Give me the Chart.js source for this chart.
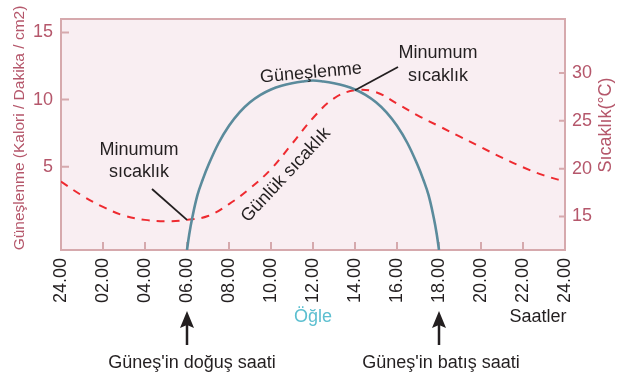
<!DOCTYPE html>
<html lang="tr">
<head>
<meta charset="utf-8">
<title>Güneşlenme ve günlük sıcaklık</title>
<script src="https://cdn.jsdelivr.net/npm/chart.js@4.4.1/dist/chart.umd.min.js"></script>
<style>
  html, body { margin: 0; padding: 0; background: #fff; }
  #wrap { width: 630px; height: 376px; }
</style>
</head>
<body>
<div id="wrap"><canvas id="gunesChart" width="630" height="376"></canvas></div>
<script>
// --- Veriler ---
const hourLabels = ['24.00', '02.00', '04.00', '06.00', '08.00', '10.00', '12.00',
                    '14.00', '16.00', '18.00', '20.00', '22.00', '24.00'];

// güneşlenme (kalori / dakika / cm2), doğuştan batışa
const sunHours  = [6, 6.1, 6.25, 6.5, 6.75, 7, 7.5, 8, 8.5, 9, 9.5, 10, 10.5, 11, 11.5, 12,
                   12.5, 13, 13.5, 14, 14.5, 15, 15.5, 16, 16.5, 17, 17.25, 17.5, 17.75, 17.9, 18];
const sunValues = [-1.2, -0.1, 1.2, 2.9, 4.05, 5.05, 6.75, 8.05, 9.05, 9.8, 10.35, 10.75, 11.03, 11.22, 11.35, 11.42,
                   11.35, 11.22, 11.03, 10.75, 10.35, 9.8, 9.05, 8.05, 6.75, 5.05, 4.05, 2.9, 1.2, -0.1, -1.2];

// günlük sıcaklık (°C), saat başı
const tempHours  = [0, 1, 2, 3, 4, 5, 6, 7, 8, 9, 10, 11, 12, 13, 14, 15, 16, 17, 18, 19, 20, 21, 22, 23, 24];
const tempValues = [18.65, 17.2, 16.0, 15.1, 14.65, 14.5, 14.65, 15.05, 16.3, 17.95, 19.95, 22.6, 25.3,
                    27.35, 28.2, 28.0, 26.8, 25.55, 24.45, 23.35, 22.25, 21.15, 20.15, 19.3, 18.65];

const sunTicks  = [5, 10, 15];
const tempTicks = [15, 20, 25, 30];

const FONT = '"Liberation Sans", Arial, sans-serif';
const AXIS_COLOR = '#b5576b';
const FRAME_COLOR = '#d6a9ad';
const TEXT_COLOR = '#231f20';

const toPoints = (xs, ys) => xs.map((x, i) => ({ x: x, y: ys[i] }));

// arka plan, çerçeve ve içe dönük çentikler
const framePlugin = {
    id: 'frame',
    beforeDatasetsDraw(chart) {
        const { ctx, chartArea: a, scales } = chart;
        ctx.save();
        ctx.fillStyle = '#f9eef2';
        ctx.fillRect(a.left, a.top, a.width, a.height);

        ctx.strokeStyle = FRAME_COLOR;
        ctx.lineWidth = 2;
        ctx.beginPath();
        scales.x.ticks.forEach(t => {
            if (t.value <= 0 || t.value >= 24) return;
            const x = scales.x.getPixelForValue(t.value);
            ctx.moveTo(x, a.bottom);
            ctx.lineTo(x, a.bottom - 8);
        });
        scales.y.ticks.forEach(t => {
            const y = scales.y.getPixelForValue(t.value);
            ctx.moveTo(a.left, y);
            ctx.lineTo(a.left + 8, y);
        });
        scales.y2.ticks.forEach(t => {
            const y = scales.y2.getPixelForValue(t.value);
            ctx.moveTo(a.right, y);
            ctx.lineTo(a.right - 6, y);
        });
        ctx.stroke();
        ctx.strokeRect(a.left, a.top, a.width, a.height);
        ctx.restore();
    }
};

function upArrow(ctx, x, tipY, len) {
    ctx.beginPath();
    ctx.moveTo(x, tipY + 10);
    ctx.lineTo(x, tipY + len);
    ctx.stroke();
    ctx.beginPath();
    ctx.moveTo(x, tipY);
    ctx.lineTo(x - 7, tipY + 17);
    ctx.lineTo(x, tipY + 14);
    ctx.lineTo(x + 7, tipY + 17);
    ctx.closePath();
    ctx.fill();
}

// yazılar, işaret çizgileri, oklar ve eksen başlıkları
const notesPlugin = {
    id: 'notes',
    afterDraw(chart) {
        const { ctx, scales } = chart;
        const x = scales.x, yT = scales.y2;
        ctx.save();
        ctx.fillStyle = TEXT_COLOR;
        ctx.strokeStyle = TEXT_COLOR;
        ctx.textAlign = 'center';
        ctx.textBaseline = 'middle';
        ctx.font = '18px ' + FONT;

        // minimum sıcaklık (sabah)
        ctx.fillText('Minumum', 139, 150);
        ctx.fillText('sıcaklık', 139, 172);
        ctx.lineWidth = 1.8;
        ctx.beginPath();
        ctx.moveTo(152, 189);
        ctx.lineTo(x.getPixelForValue(tempHours[6]), yT.getPixelForValue(tempValues[6]));
        ctx.stroke();

        // maksimum noktası
        ctx.fillText('Minumum', 438, 53);
        ctx.fillText('sıcaklık', 438, 76);
        ctx.beginPath();
        ctx.moveTo(398, 67);
        ctx.lineTo(x.getPixelForValue(tempHours[14]), yT.getPixelForValue(tempValues[14]));
        ctx.stroke();

        // eğri adları
        ctx.save();
        ctx.translate(311, 73);
        ctx.rotate(-5 * Math.PI / 180);
        ctx.fillText('Güneşlenme', 0, 0);
        ctx.restore();

        ctx.save();
        ctx.translate(286, 175);
        ctx.rotate(-47 * Math.PI / 180);
        ctx.fillText('Günlük sıcaklık', 0, 0);
        ctx.restore();

        // Öğle, Saatler
        ctx.fillStyle = '#5cbfd0';
        ctx.fillText('Öğle', x.getPixelForValue(12), 317);
        ctx.fillStyle = TEXT_COLOR;
        ctx.fillText('Saatler', 538, 317);

        // doğuş / batış okları
        ctx.lineWidth = 2.5;
        upArrow(ctx, x.getPixelForValue(sunHours[0]), 311, 34);
        upArrow(ctx, x.getPixelForValue(sunHours[sunHours.length - 1]), 311, 34);
        ctx.fillText("Güneş'in doğuş saati", 192, 363);
        ctx.fillText("Güneş'in batış saati", 441, 363);

        // eksen başlıkları
        ctx.fillStyle = AXIS_COLOR;
        ctx.save();
        ctx.translate(20, 128);
        ctx.rotate(-Math.PI / 2);
        ctx.font = '15.5px ' + FONT;
        ctx.fillText('Güneşlenme (Kalori / Dakika / cm2)', 0, 0);
        ctx.restore();

        ctx.save();
        ctx.translate(606, 125);
        ctx.rotate(-Math.PI / 2);
        ctx.fillText('Sıcaklık(°C)', 0, 0);
        ctx.restore();

        ctx.restore();
    }
};

const ctx = document.getElementById('gunesChart');
new Chart(ctx, {
    type: 'line',
    data: {
        datasets: [
            {
                label: 'Güneşlenme',
                data: toPoints(sunHours, sunValues),
                yAxisID: 'y',
                borderColor: '#5b8b9c',
                borderWidth: 2.6,
                pointRadius: 0,
                tension: 0.4,
                fill: false
            },
            {
                label: 'Günlük sıcaklık',
                data: toPoints(tempHours, tempValues),
                yAxisID: 'y2',
                borderColor: '#ee2a30',
                borderWidth: 2,
                borderDash: [8, 7],
                pointRadius: 0,
                tension: 0.4,
                fill: false
            }
        ]
    },
    options: {
        responsive: false,
        animation: false,
        devicePixelRatio: 1,
        layout: { padding: { top: 19, left: 0, right: 0, bottom: 0 } },
        plugins: { legend: { display: false }, tooltip: { enabled: false } },
        scales: {
            x: {
                type: 'linear',
                min: 0,
                max: 24,
                grid: { display: false, drawTicks: false },
                border: { display: false },
                afterFit(scale) { scale.height = 126; },
                ticks: {
                    stepSize: 2,
                    autoSkip: false,
                    maxRotation: 90,
                    minRotation: 90,
                    padding: 8,
                    color: TEXT_COLOR,
                    font: { family: FONT, size: 18 },
                    callback: (value, index) => hourLabels[index]
                }
            },
            y: {
                position: 'left',
                min: -1.2,
                max: 16,
                grid: { display: false, drawTicks: false },
                border: { display: false },
                afterFit(scale) { scale.width = 61; },
                afterBuildTicks(scale) { scale.ticks = sunTicks.map(v => ({ value: v })); },
                ticks: { padding: 8, color: AXIS_COLOR, font: { family: FONT, size: 18 } }
            },
            y2: {
                position: 'right',
                min: 11.5,
                max: 35.65,
                grid: { display: false, drawTicks: false },
                border: { display: false },
                afterFit(scale) { scale.width = 65; },
                afterBuildTicks(scale) { scale.ticks = tempTicks.map(v => ({ value: v })); },
                ticks: { padding: 7, color: AXIS_COLOR, font: { family: FONT, size: 18 } }
            }
        }
    },
    plugins: [framePlugin, notesPlugin]
});
</script>
</body>
</html>
